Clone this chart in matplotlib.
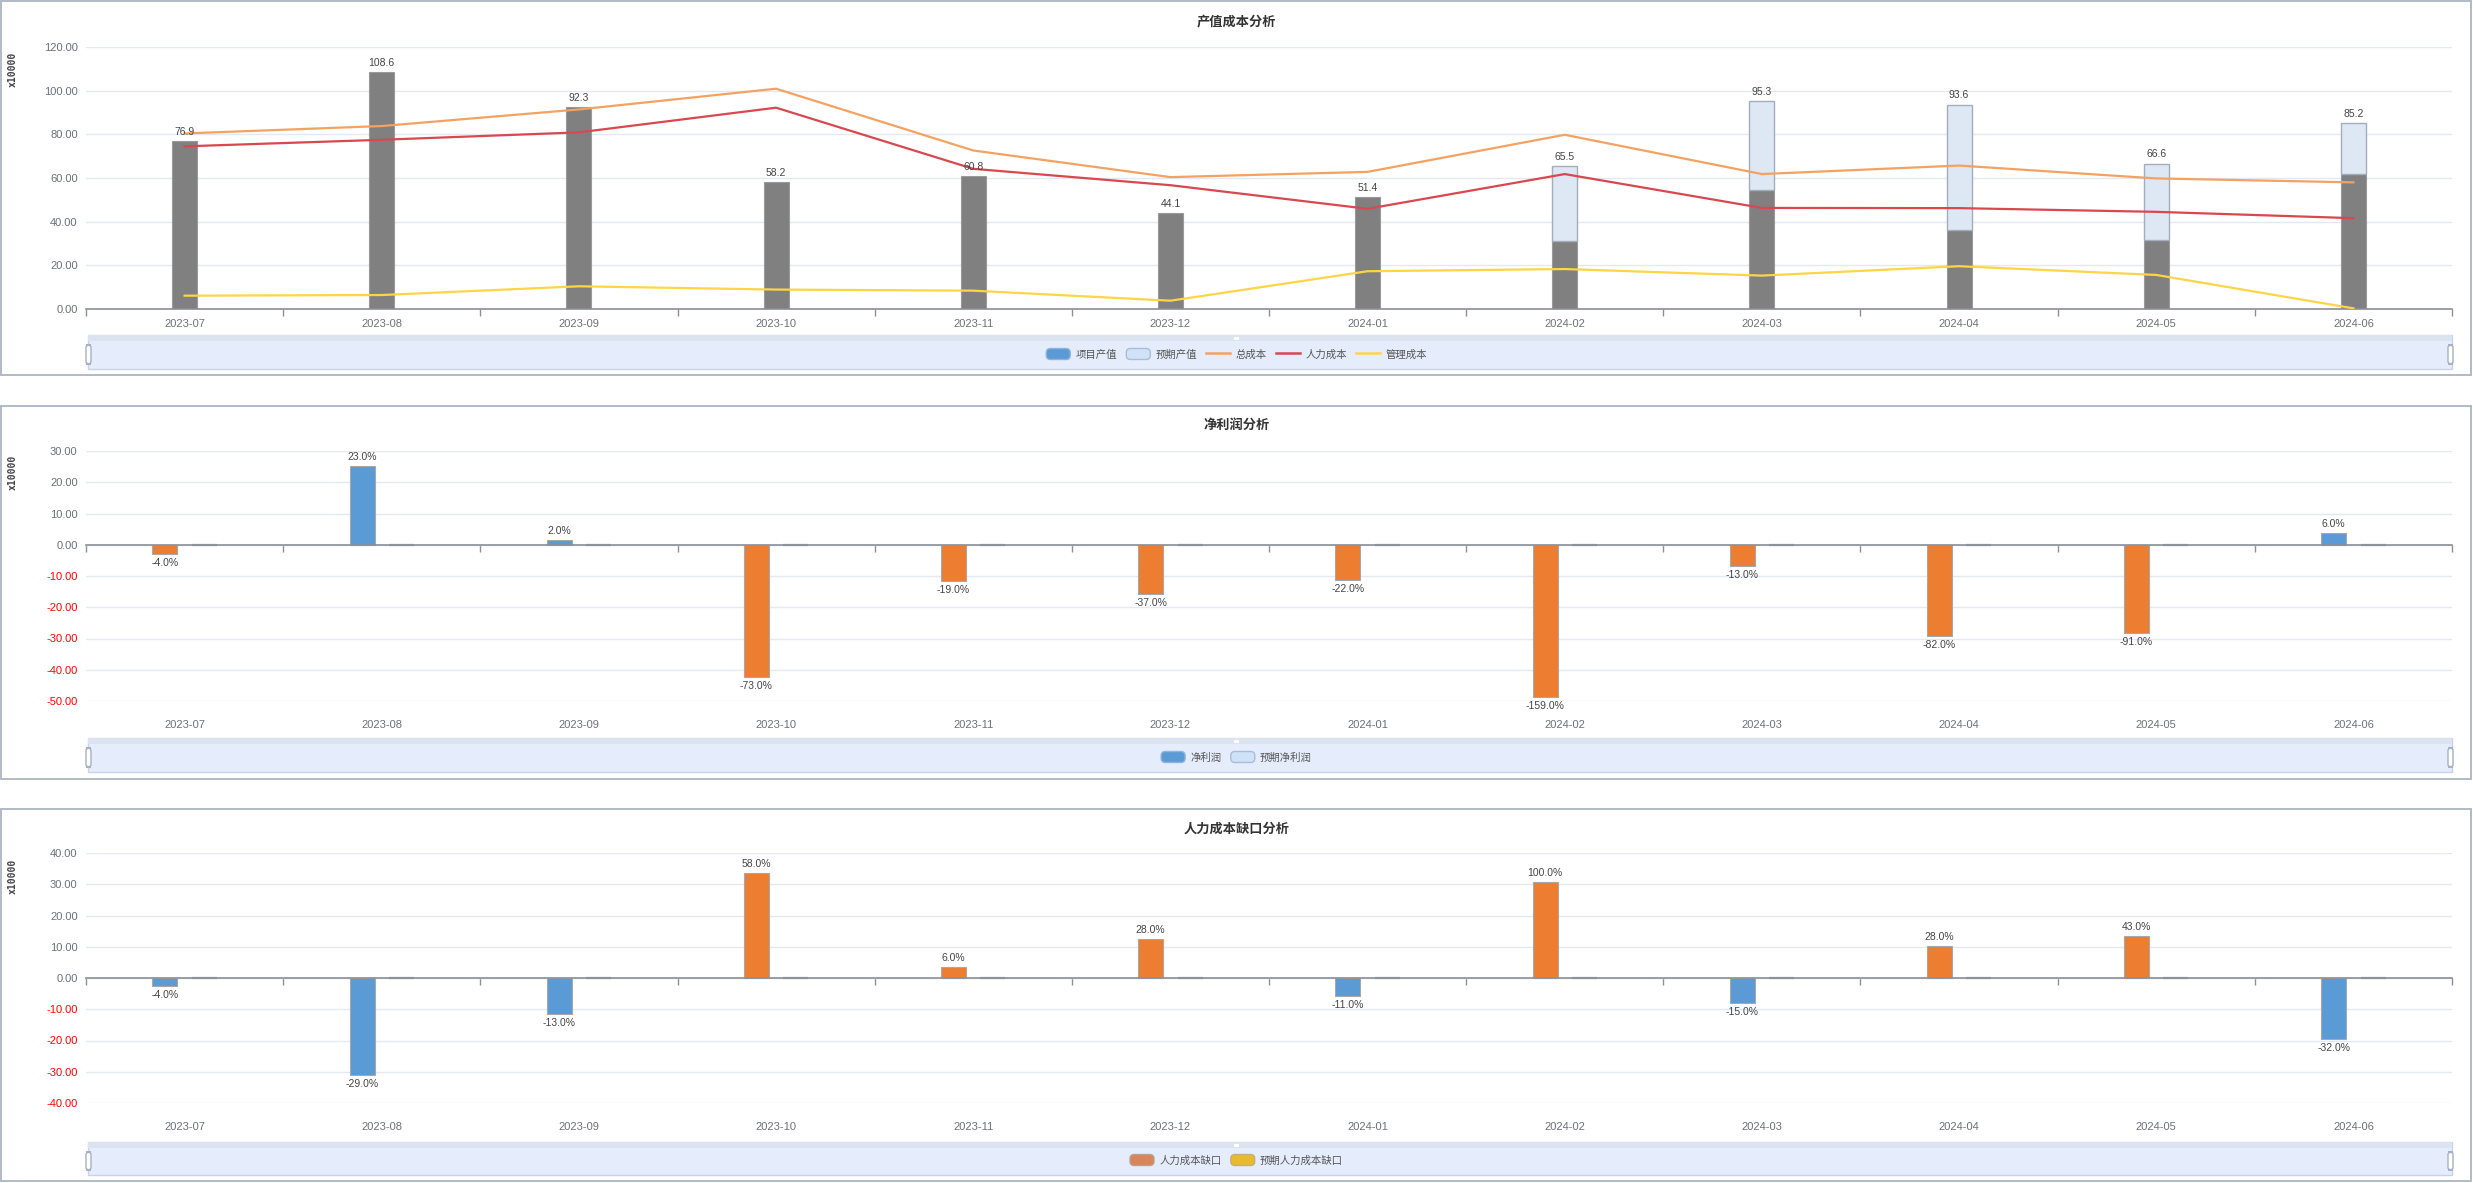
import numpy as np
import matplotlib
matplotlib.use('Agg')
import matplotlib.pyplot as plt
from matplotlib.patches import Rectangle, FancyBboxPatch, Patch
from matplotlib.lines import Line2D
from matplotlib.legend_handler import HandlerPatch

plt.rcParams['font.family'] = ['Liberation Sans', 'Noto Sans CJK SC', 'DejaVu Sans']

months = ['2023-07', '2023-08', '2023-09', '2023-10', '2023-11', '2023-12',
          '2024-01', '2024-02', '2024-03', '2024-04', '2024-05', '2024-06']

# panel 1: 产值成本分析 (x10000)
output_actual = [76.9, 108.6, 92.3, 58.2, 60.8, 44.1, 51.4, 31.0, 54.7, 36.4, 31.5, 61.9]
output_expected = [0, 0, 0, 0, 0, 0, 0, 34.5, 40.6, 57.2, 35.1, 23.3]
total_cost = [80.4, 83.8, 91.4, 100.9, 72.6, 60.4, 62.8, 79.8, 61.8, 65.7, 59.8, 58.0]
labor_cost = [74.5, 77.5, 80.9, 92.2, 64.2, 56.7, 45.9, 61.8, 46.3, 46.2, 44.5, 41.6]
mgmt_cost = [6.1, 6.4, 10.4, 8.9, 8.4, 3.8, 17.3, 18.3, 15.3, 19.6, 15.6, 0.3]

# panel 2: 净利润分析
net_profit = [-3.0, 25.2, 1.5, -42.4, -11.6, -15.8, -11.2, -48.6, -6.8, -29.3, -28.2, 3.7]
net_profit_pct = [-4.0, 23.0, 2.0, -73.0, -19.0, -37.0, -22.0, -159.0, -13.0, -82.0, -91.0, 6.0]
net_profit_expected = [0] * 12

# panel 3: 人力成本缺口分析
labor_gap = [-2.65, -31.1, -11.5, 33.6, 3.4, 12.4, -5.6, 30.7, -7.9, 10.1, 13.5, -19.6]
labor_gap_pct = [-4.0, -29.0, -13.0, 58.0, 6.0, 28.0, -11.0, 100.0, -15.0, 28.0, 43.0, -32.0]
labor_gap_expected = [0] * 12

W, H = 2473, 1183
DPI = 100
fig = plt.figure(figsize=(W / DPI, H / DPI), dpi=DPI)

BLUE = '#5b9bd5'
ORANGE = '#ed7d31'
GREY_BAR = '#808080'
LIGHT = '#dde8f4'
TICK_C = '#6e7079'
GRID_C = '#e3e8f2'
AXIS_C = '#8a8f99'
C_TOTAL = '#f4a261'
C_LABOR = '#d9474f'
C_MGMT = '#ffd447'


def fx(x):
    return x / W


def fy(y):
    return 1 - y / H


def add_ax(left, top, right, bottom):
    return fig.add_axes([fx(left), fy(bottom), (right - left) / W, (bottom - top) / H])


def frame(top, bottom):
    fig.patches.append(Rectangle((fx(1), fy(bottom)), fx(2470), (bottom - top) / H,
                                 transform=fig.transFigure, fill=False,
                                 edgecolor='#aab4c3', lw=1.3))


def slider(top, bottom):
    left, right = 88, 2452
    fig.patches.append(Rectangle((fx(left), fy(bottom)), (right - left) / W, (bottom - top) / H,
                                 transform=fig.transFigure, facecolor='#e5edfc',
                                 edgecolor='#c9d3e6', lw=1, zorder=0))
    fig.patches.append(Rectangle((fx(left), fy(top + 6)), (right - left) / W, 6 / H,
                                 transform=fig.transFigure, facecolor='#dbe2f0',
                                 edgecolor='none', zorder=0))
    for hx in (left - 2, right - 4):
        fig.patches.append(FancyBboxPatch((fx(hx), fy(bottom - 5)), 5 / W, (bottom - top - 15) / H,
                                          boxstyle='round,pad=0,rounding_size=0.002',
                                          transform=fig.transFigure, facecolor='white',
                                          edgecolor='#a7b1c4', lw=1, zorder=1))
    fig.patches.append(Rectangle((fx(1234), fy(top + 5)), 5 / W, 3 / H,
                                 transform=fig.transFigure, facecolor='white',
                                 edgecolor='none', zorder=1))


def style_axis(ax, ylim, step, zero_line):
    x = np.arange(len(months))
    ax.set_xlim(-0.5, len(months) - 0.5)
    ax.set_ylim(*ylim)
    yt = np.arange(ylim[0], ylim[1] + step / 2, step)
    ax.set_yticks(yt)
    ax.set_yticklabels(['%.2f' % v for v in yt])
    for lab, v in zip(ax.get_yticklabels(), yt):
        lab.set_color('#ff0000' if v < 0 else TICK_C)
    ax.tick_params(axis='y', length=0, pad=6, labelsize=8)
    ax.grid(axis='y', color=GRID_C, lw=1)
    ax.set_axisbelow(True)
    for s in ('left', 'right', 'top'):
        ax.spines[s].set_visible(False)
    ax.spines['bottom'].set_position(('data', 0))
    ax.spines['bottom'].set_color(AXIS_C)
    ax.spines['bottom'].set_linewidth(1.2)
    ax.set_xticks(np.arange(-0.5, len(months)), minor=True)
    ax.set_xticks(x)
    ax.set_xticklabels([])
    ax.tick_params(axis='x', which='major', length=0)
    ax.tick_params(axis='x', which='minor', length=5, color=AXIS_C, width=1)
    lab_y = -15 if not zero_line else -24
    for i, m in enumerate(months):
        ax.annotate(m, xy=(i, 0), xycoords=('data', 'axes fraction'),
                    xytext=(0, lab_y * 0.72), textcoords='offset points',
                    ha='center', va='center', fontsize=8, color=TICK_C)


def title(text, y):
    fig.text(0.5, fy(y), text, ha='center', va='center', fontsize=9.5,
             fontweight='bold', color='#333333')


def ylabel(y):
    fig.text(fx(13), fy(y), 'x10000', rotation=90, ha='center', va='center',
             fontsize=7, color='#444444', family='DejaVu Sans Mono', fontweight='bold')


def rounded_swatch(legend, orig_handle, xdescent, ydescent, width, height, fontsize):
    return FancyBboxPatch((-xdescent, -ydescent), width, height,
                          boxstyle='round,pad=0,rounding_size=3')


def legend(handles, labels, y):
    fig.legend(handles, labels, loc='center', bbox_to_anchor=(0.5, fy(y)),
               ncol=len(handles), frameon=False, fontsize=7.5, labelcolor='#555555',
               handlelength=2.3, handleheight=1.25, handletextpad=0.5, columnspacing=0.9,
               handler_map={Patch: HandlerPatch(patch_func=rounded_swatch)})


x = np.arange(len(months))
bw = 0.127

# ---------------- panel 1 ----------------
frame(1, 375)
title('产值成本分析', 22)
ylabel(69)
ax1 = add_ax(86, 47, 2452, 309)
style_axis(ax1, (0, 120), 20, False)
ax1.bar(x, output_actual, bw, color=GREY_BAR, edgecolor='#9a9a9a', lw=0.8, zorder=2)
exp_mask = np.array(output_expected) > 0
ax1.bar(x[exp_mask], np.array(output_expected)[exp_mask], bw,
        bottom=np.array(output_actual)[exp_mask], color=LIGHT, edgecolor='#a3adbb', lw=1, zorder=2)
ax1.plot(x, total_cost, color=C_TOTAL, lw=1.6, zorder=3)
ax1.plot(x, labor_cost, color=C_LABOR, lw=1.6, zorder=3)
ax1.plot(x, mgmt_cost, color=C_MGMT, lw=1.6, zorder=3)
totals = np.array(output_actual) + np.array(output_expected)
for i, t in enumerate(totals):
    ax1.annotate('%.1f' % t, (i, t), xytext=(0, 3), textcoords='offset points',
                 ha='center', va='bottom', fontsize=7.5, color='#444444', zorder=4)
slider(335, 369)
legend([Patch(facecolor=BLUE, edgecolor='#8fb3dc'),
        Patch(facecolor='#cfe2f7', edgecolor='#a9bdd6'),
        Line2D([], [], color=C_TOTAL, lw=1.8),
        Line2D([], [], color=C_LABOR, lw=1.8),
        Line2D([], [], color=C_MGMT, lw=1.8)],
       ['项目产值', '预期产值', '总成本', '人力成本', '管理成本'], 354)


def signed_bars(ax, values, pcts, expected, pos_color, neg_color):
    off = 0.1
    cols = [pos_color if v >= 0 else neg_color for v in values]
    ax.bar(x - off, values, bw, color=cols, edgecolor='#a8a8a8', lw=0.8, zorder=2)
    ax.bar(x + off, expected, bw, color='#cccccc', edgecolor='#a0a0a0', lw=1.6, zorder=2)
    for i, (v, p) in enumerate(zip(values, pcts)):
        up = v >= 0
        ax.annotate('%.1f%%' % p, (i - off, v), xytext=(0, 3 if up else -3),
                    textcoords='offset points', ha='center',
                    va='bottom' if up else 'top', fontsize=7.5, color='#444444')


# ---------------- panel 2 ----------------
frame(406, 779)
title('净利润分析', 425)
ylabel(472)
ax2 = add_ax(86, 451, 2452, 701)
style_axis(ax2, (-50, 30), 10, True)
signed_bars(ax2, net_profit, net_profit_pct, net_profit_expected, BLUE, ORANGE)
slider(738, 772)
legend([Patch(facecolor=BLUE, edgecolor='#8fb3dc'),
        Patch(facecolor='#cfe2f7', edgecolor='#a9bdd6')],
       ['净利润', '预期净利润'], 757)

# ---------------- panel 3 ----------------
frame(809, 1181)
title('人力成本缺口分析', 829)
ylabel(876)
ax3 = add_ax(86, 853, 2452, 1103)
style_axis(ax3, (-40, 40), 10, True)
signed_bars(ax3, labor_gap, labor_gap_pct, labor_gap_expected, ORANGE, BLUE)
slider(1142, 1175)
legend([Patch(facecolor='#d9845a', edgecolor='#b9a18f'),
        Patch(facecolor='#e8bb2e', edgecolor='#c4b07a')],
       ['人力成本缺口', '预期人力成本缺口'], 1160)

fig.savefig('out.png', dpi=DPI, facecolor='white')
